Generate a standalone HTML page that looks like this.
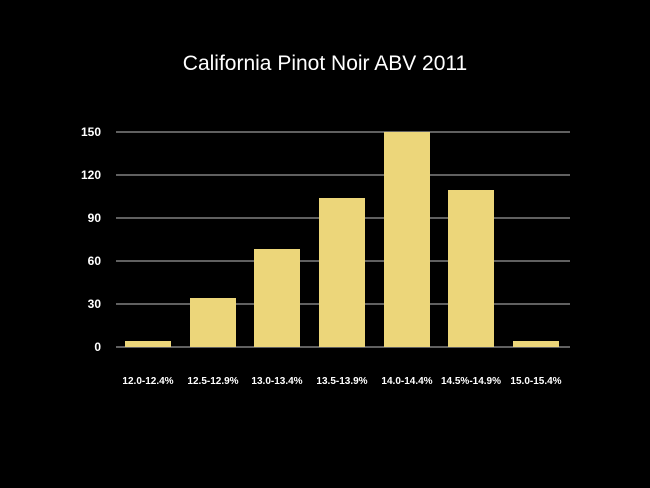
<!DOCTYPE html><html><head><style>body{margin:0;background:#000}</style></head><body>
<svg width="650" height="488" xmlns="http://www.w3.org/2000/svg" style="display:block;font-family:'Liberation Sans',sans-serif">
<rect width="650" height="488" fill="#000"/>
<text x="325" y="70" fill="#fff" font-size="21" text-anchor="middle">California Pinot Noir ABV 2011</text>
<g stroke="#9a9a9a" stroke-width="1.2">
<line x1="116" x2="570" y1="347" y2="347"/><line x1="116" x2="570" y1="304" y2="304"/><line x1="116" x2="570" y1="261" y2="261"/><line x1="116" x2="570" y1="218" y2="218"/><line x1="116" x2="570" y1="175" y2="175"/><line x1="116" x2="570" y1="132" y2="132"/>
</g>
<g fill="#fff" font-size="12" font-weight="bold" text-anchor="end">
<text x="101" y="351">0</text><text x="101" y="308">30</text><text x="101" y="265">60</text><text x="101" y="222">90</text><text x="101" y="179">120</text><text x="101" y="136">150</text>
</g>
<g fill="#ecd67a">
<rect x="125" y="341" width="46" height="6"/><rect x="190" y="298" width="46" height="49"/><rect x="254" y="249" width="46" height="98"/><rect x="319" y="198" width="46" height="149"/><rect x="384" y="132" width="46" height="215"/><rect x="448" y="190" width="46" height="157"/><rect x="513" y="341" width="46" height="6"/>
</g>
<g fill="#fff" font-size="10" font-weight="bold" text-anchor="middle">
<text x="148" y="384">12.0-12.4%</text><text x="213" y="384">12.5-12.9%</text><text x="277" y="384">13.0-13.4%</text><text x="342" y="384">13.5-13.9%</text><text x="407" y="384">14.0-14.4%</text><text x="471" y="384">14.5%-14.9%</text><text x="536" y="384">15.0-15.4%</text>
</g>
</svg></body></html>
